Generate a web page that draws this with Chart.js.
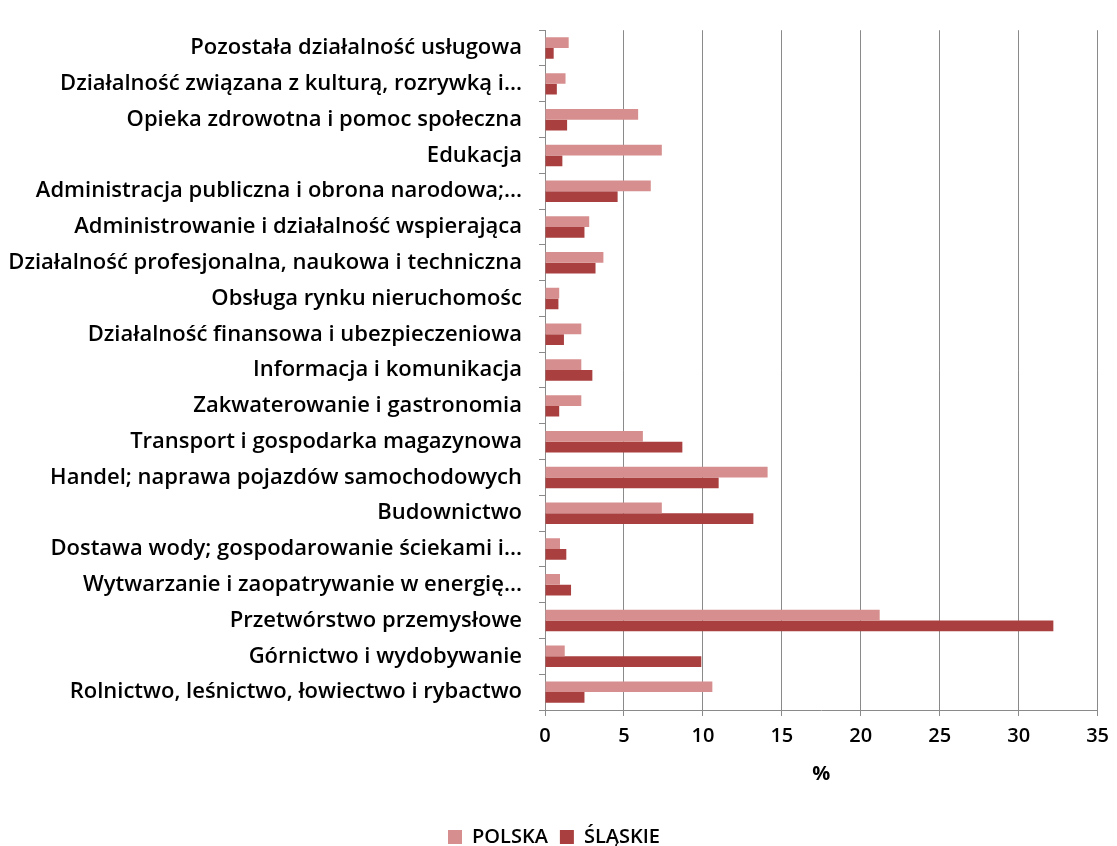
<!DOCTYPE html>
<html>
<head>
<meta charset="utf-8">
<script src="https://cdn.jsdelivr.net/npm/chart.js@4"></script>
<style>
html,body{margin:0;padding:0;background:#ffffff;}
#wrap{width:1117px;height:846px;position:relative;}
</style>
</head>
<body>
<div id="wrap"><canvas id="c" width="1117" height="846"></canvas></div>
<script>
const categories = [
  "Pozostała działalność usługowa",
  "Działalność związana z kulturą, rozrywką i...",
  "Opieka zdrowotna i pomoc społeczna",
  "Edukacja",
  "Administracja publiczna i obrona narodowa;...",
  "Administrowanie i działalność wspierająca",
  "Działalność profesjonalna, naukowa i techniczna",
  "Obsługa rynku nieruchomośc",
  "Działalność finansowa i ubezpieczeniowa",
  "Informacja i komunikacja",
  "Zakwaterowanie i gastronomia",
  "Transport i gospodarka magazynowa",
  "Handel; naprawa pojazdów samochodowych",
  "Budownictwo",
  "Dostawa wody; gospodarowanie ściekami i...",
  "Wytwarzanie i zaopatrywanie w energię...",
  "Przetwórstwo przemysłowe",
  "Górnictwo i wydobywanie",
  "Rolnictwo, leśnictwo, łowiectwo i rybactwo"
];
const polska  = [1.5, 1.3, 5.9, 7.4, 6.7, 2.8, 3.7, 0.9, 2.3, 2.3, 2.3, 6.2, 14.1, 7.4, 0.95, 0.95, 21.2, 1.25, 10.6];
const slaskie = [0.55, 0.75, 1.4, 1.1, 4.6, 2.5, 3.2, 0.85, 1.2, 3.0, 0.9, 8.7, 11.0, 13.2, 1.35, 1.65, 32.2, 9.9, 2.5];
const seriesNames = ["POLSKA", "ŚLĄSKIE"];
const xMin = 0, xMax = 35, xStep = 5;
const xAxisTitle = "%";

const FONT = "'Open Sans'";
const GRID = "#8a8a8a";

new Chart(document.getElementById("c"), {
  type: "bar",
  data: {
    labels: categories,
    datasets: [
      { label: seriesNames[0], data: polska, backgroundColor: "#D68F8E", categoryPercentage: 0.6, barPercentage: 1.0 },
      { label: seriesNames[1], data: slaskie, backgroundColor: "#A9403F", categoryPercentage: 0.6, barPercentage: 1.0 }
    ]
  },
  options: {
    responsive: false,
    animation: false,
    indexAxis: "y",
    layout: { padding: { top: 17, right: 9, bottom: -11, left: 0 } },
    scales: {
      x: {
        min: xMin, max: xMax,
        ticks: { stepSize: xStep, color: "#000", font: { family: FONT, size: 20, weight: "600" }, padding: 8 },
        grid: { color: GRID, lineWidth: 1, tickLength: 6, drawOnChartArea: true },
        border: { color: GRID },
        title: { display: true, text: xAxisTitle, color: "#000", font: { family: FONT, size: 20, weight: "bold" }, padding: { top: 4, bottom: 29 } },
        afterFit(s) { s.height = 105; }
      },
      y: {
        ticks: { color: "#000", font: { family: FONT, size: 22, weight: "600" }, padding: 17, autoSkip: false },
        grid: { drawOnChartArea: false, offset: true, tickLength: 6, color: GRID },
        border: { color: GRID },
        afterFit(s) { s.width = 545; }
      }
    },
    plugins: {
      legend: {
        position: "bottom",
        labels: { boxWidth: 14, boxHeight: 14, color: "#000", font: { family: FONT, size: 20, weight: "600" }, padding: 12 }
      },
      tooltip: { enabled: false }
    }
  }
});
</script>
</body>
</html>
